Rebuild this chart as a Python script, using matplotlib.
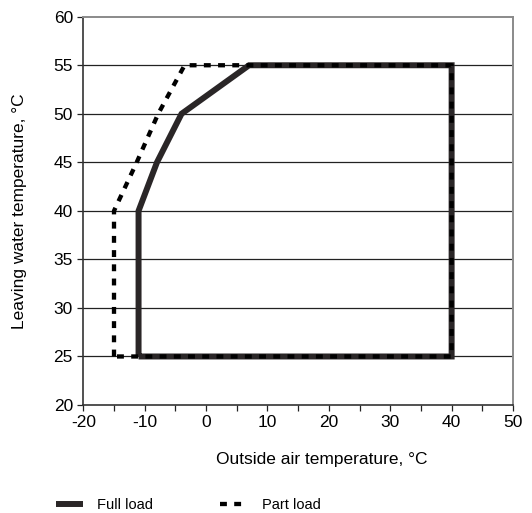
import matplotlib
matplotlib.use("Agg")
import matplotlib.pyplot as plt

plt.rcParams['font.family'] = ['Liberation Sans', 'DejaVu Sans']
plt.rcParams['axes.unicode_minus'] = False

# operating envelope outlines (outside air temp, leaving water temp)
full_x = [-11, -11, -8, -4, 7, 40, 40, -11]
full_y = [25, 40, 45, 50, 55, 55, 25, 25]
part_x = [-15, -15, -11.3, -7.8, -3.5, 40, 40, -15]
part_y = [25, 40, 45, 50, 55, 55, 25, 25]

x_ticks = list(range(-20, 51, 10))
y_ticks = list(range(20, 61, 5))
grid_y = [25, 30, 35, 40, 45, 50, 55]


def main():
    fig = plt.figure(figsize=(5.32, 5.13), dpi=100)
    ax = fig.add_axes([0.1566, 0.2105, 0.8077, 0.7569])

    for gy in grid_y:
        ax.axhline(gy, color='#222222', lw=0.9, zorder=1)

    ax.plot(full_x, full_y, color='#2a2627', lw=4.3, solid_joinstyle='miter',
            solid_capstyle='butt', zorder=3, label='Full load')
    ax.plot(part_x, part_y, color='black', lw=3.1, linestyle=(0, (1.6, 1.7)),
            dash_capstyle='butt', zorder=4, label='Part load')

    ax.set_xlim(-20, 50)
    ax.set_ylim(20, 60)
    ax.set_xticks(x_ticks)
    ax.set_xticks(range(-15, 50, 10), minor=True)
    ax.set_yticks(y_ticks)
    ax.tick_params(axis='both', which='both', direction='out', length=4,
                   width=0.9, colors='#222222', labelsize=12.5, labelcolor='black')
    ax.tick_params(axis='x', pad=3)

    for s in ['left', 'bottom']:
        ax.spines[s].set_color('#333333')
        ax.spines[s].set_linewidth(1.2)
    for s in ['top', 'right']:
        ax.spines[s].set_color('#8a8a8a')
        ax.spines[s].set_linewidth(1.4)

    ax.set_xlabel('Outside air temperature, °C', fontsize=12.5, labelpad=16)
    ax.xaxis.set_label_coords(0.555, -0.122)
    ax.set_ylabel('Leaving water temperature, °C', fontsize=12.5, labelpad=19)

    fig.legend(loc='center left', bbox_to_anchor=(0.08, 0.016), ncol=2,
               frameon=False, fontsize=10.5, handlelength=1.85,
               columnspacing=4.6, handletextpad=1.0)

    fig.savefig('out.png', dpi=100)


if __name__ == "__main__":
    main()
